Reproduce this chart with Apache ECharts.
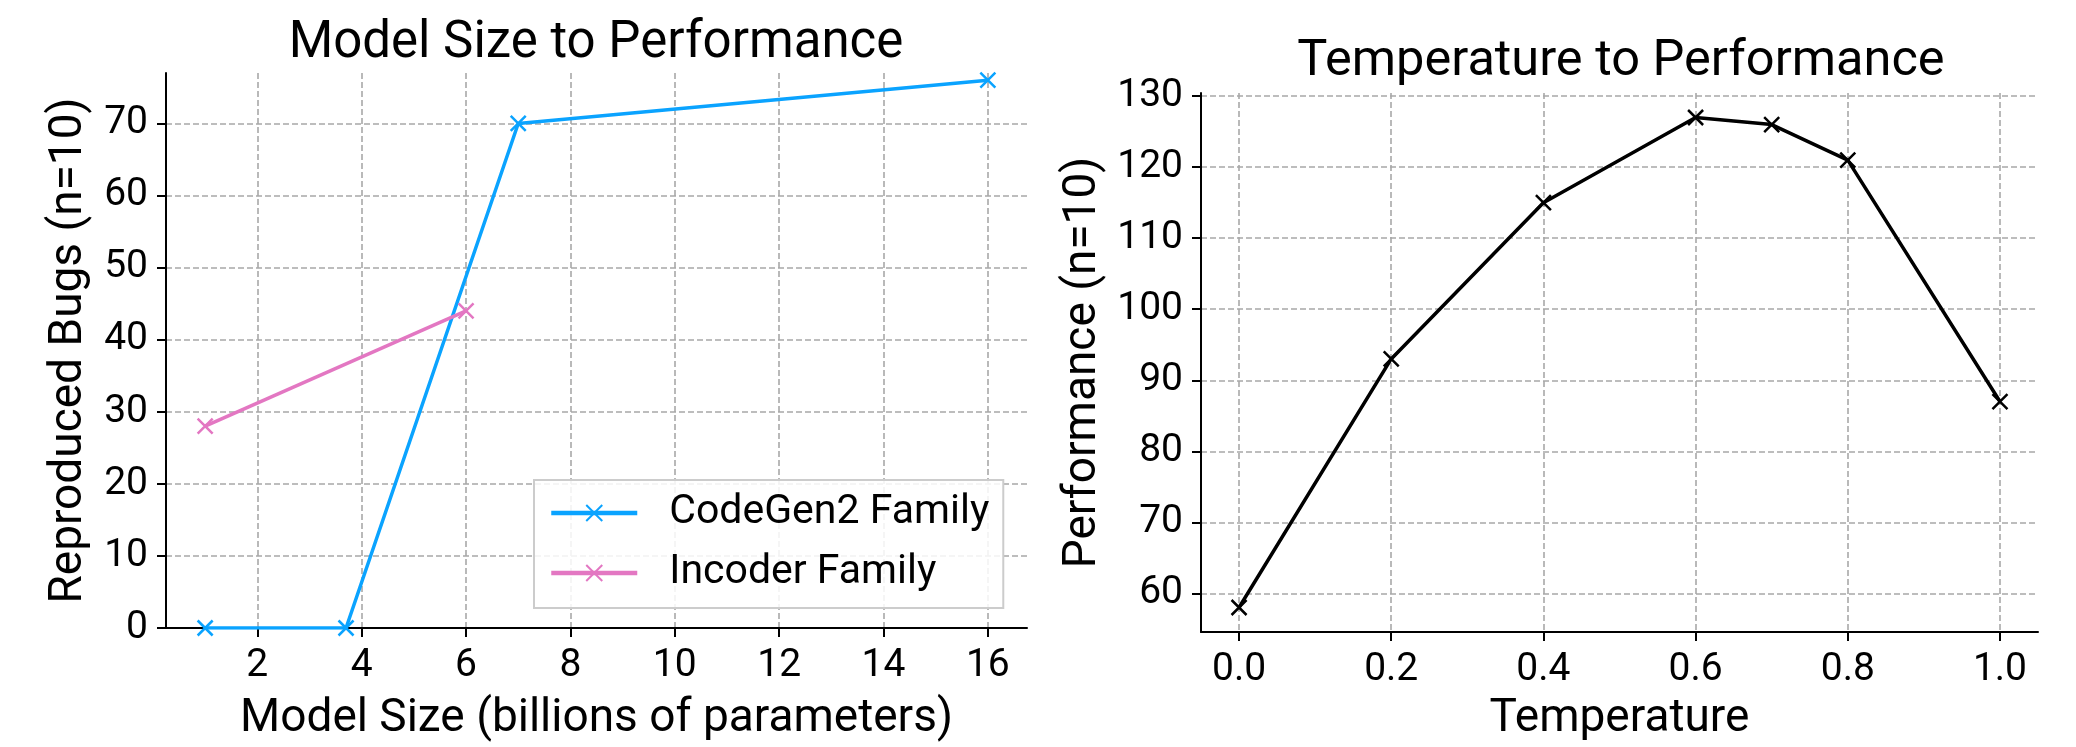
<!DOCTYPE html>
<html>
<head>
<meta charset="utf-8">
<script src="https://cdn.jsdelivr.net/npm/echarts@6/dist/echarts.min.js"></script>
<style>
html,body{margin:0;padding:0;background:#fff;}
#c{width:2076px;height:747px;}
</style>
</head>
<body>
<div id="c"></div>
<script>
// ---- data ----
const codegenSizes = [1, 3.7, 7, 16];
const codegenBugs = [0, 0, 70, 76];
const incoderSizes = [1, 6];
const incoderBugs = [28, 44];
const temperatures = [0.0, 0.2, 0.4, 0.6, 0.7, 0.8, 1.0];
const tempPerformance = [58, 93, 115, 127, 126, 121, 87];
const sizeTicks = [2, 4, 6, 8, 10, 12, 14, 16];
const bugTicks = [0, 10, 20, 30, 40, 50, 60, 70];
const tempTicks = [0.0, 0.2, 0.4, 0.6, 0.8, 1.0];
const perfTicks = [60, 70, 80, 90, 100, 110, 120, 130];
const seriesNames = ['CodeGen2 Family', 'Incoder Family'];

const FONT = 'Roboto';
const BLUE = '#0aa3ff';
const PINK = '#e377c2';
const X_MARK = 'path://M0,0L10,10M10,0L0,10';
const zip = (a, b) => a.map((v, i) => [v, b[i]]);

const gridLine = {show: true, lineStyle: {color: '#a8a8a8', width: 1.6, type: [6, 3]}};
const axisLine = {show: true, onZero: false, lineStyle: {color: '#000', width: 2}};
const axisTick = (vals) => ({show: true, length: 9, inside: false, lineStyle: {color: '#000', width: 2}, customValues: vals});
const label = (vals, fmt, margin) => ({show: true, fontFamily: FONT, fontSize: 39, color: '#000', margin: margin, customValues: vals, formatter: fmt});

const chart = echarts.init(document.getElementById('c'), null, {renderer: 'canvas'});
chart.setOption({
  animation: false,
  backgroundColor: '#fff',
  title: [
    {text: 'Model Size to Performance', left: 591, top: 14, textAlign: 'center',
     textStyle: {fontFamily: FONT, fontSize: 51, fontWeight: 'normal', color: '#000'}},
    {text: 'Temperature to Performance', left: 1616, top: 32, textAlign: 'center',
     textStyle: {fontFamily: FONT, fontSize: 50.5, fontWeight: 'normal', color: '#000'}}
  ],
  legend: {
    data: seriesNames,
    orient: 'vertical',
    left: 534, top: 480,
    padding: [10, 14, 12, 15],
    itemWidth: 86, itemHeight: 20, itemGap: 14,
    backgroundColor: 'rgba(255,255,255,0.85)',
    borderColor: '#cccccc', borderWidth: 2, borderRadius: 0,
    lineStyle: {width: 4.5},
    textStyle: {fontFamily: FONT, fontSize: 41, lineHeight: 46, color: '#000', padding: [0, 0, 0, 27]}
  },
  grid: [
    {left: 166, top: 73, width: 861, height: 557},
    {left: 1201, top: 93, width: 837, height: 544}
  ],
  xAxis: [
    {type: 'value', gridIndex: 0, min: 0.25, max: 16.75,
     name: 'Model Size (billions of parameters)', nameLocation: 'middle', nameGap: 68,
     nameTextStyle: {fontFamily: FONT, fontSize: 46, color: '#000'},
     axisLine: axisLine, axisTick: axisTick(sizeTicks), axisLabel: label(sizeTicks, v => String(v), 19),
     splitLine: gridLine},
    {type: 'value', gridIndex: 1, min: -0.05, max: 1.05,
     name: 'Temperature', nameLocation: 'middle', nameGap: 64,
     nameTextStyle: {fontFamily: FONT, fontSize: 46, color: '#000'},
     axisLine: axisLine, axisTick: axisTick(tempTicks), axisLabel: label(tempTicks, v => Number(v).toFixed(1), 19),
     splitLine: gridLine}
  ],
  yAxis: [
    {type: 'value', gridIndex: 0, min: 0, max: 77,
     name: 'Reproduced Bugs (n=10)', nameLocation: 'middle', nameGap: 74,
     nameTextStyle: {fontFamily: FONT, fontSize: 46, color: '#000'},
     axisLine: axisLine, axisTick: axisTick(bugTicks), axisLabel: label(bugTicks, v => String(v), 18),
     splitLine: gridLine},
    {type: 'value', gridIndex: 1, min: 54.55, max: 130.45,
     name: 'Performance (n=10)', nameLocation: 'middle', nameGap: 95,
     nameTextStyle: {fontFamily: FONT, fontSize: 46, color: '#000'},
     axisLine: axisLine, axisTick: axisTick(perfTicks), axisLabel: label(perfTicks, v => String(v), 18),
     splitLine: gridLine}
  ],
  series: [
    {name: seriesNames[0], type: 'line', xAxisIndex: 0, yAxisIndex: 0, data: zip(codegenSizes, codegenBugs),
     symbol: X_MARK, symbolSize: 15, showAllSymbol: true,
     lineStyle: {color: BLUE, width: 3.5}, itemStyle: {color: BLUE, borderColor: BLUE, borderWidth: 2.5}},
    {name: seriesNames[1], type: 'line', xAxisIndex: 0, yAxisIndex: 0, data: zip(incoderSizes, incoderBugs),
     symbol: X_MARK, symbolSize: 15,
     lineStyle: {color: PINK, width: 3.5}, itemStyle: {color: PINK, borderColor: PINK, borderWidth: 2.5}},
    {name: 'Temperature', type: 'line', xAxisIndex: 1, yAxisIndex: 1, data: zip(temperatures, tempPerformance),
     symbol: X_MARK, symbolSize: 15,
     lineStyle: {color: '#000', width: 3.5}, itemStyle: {color: '#000', borderColor: '#000', borderWidth: 2.5}}
  ]
});
</script>
</body>
</html>
